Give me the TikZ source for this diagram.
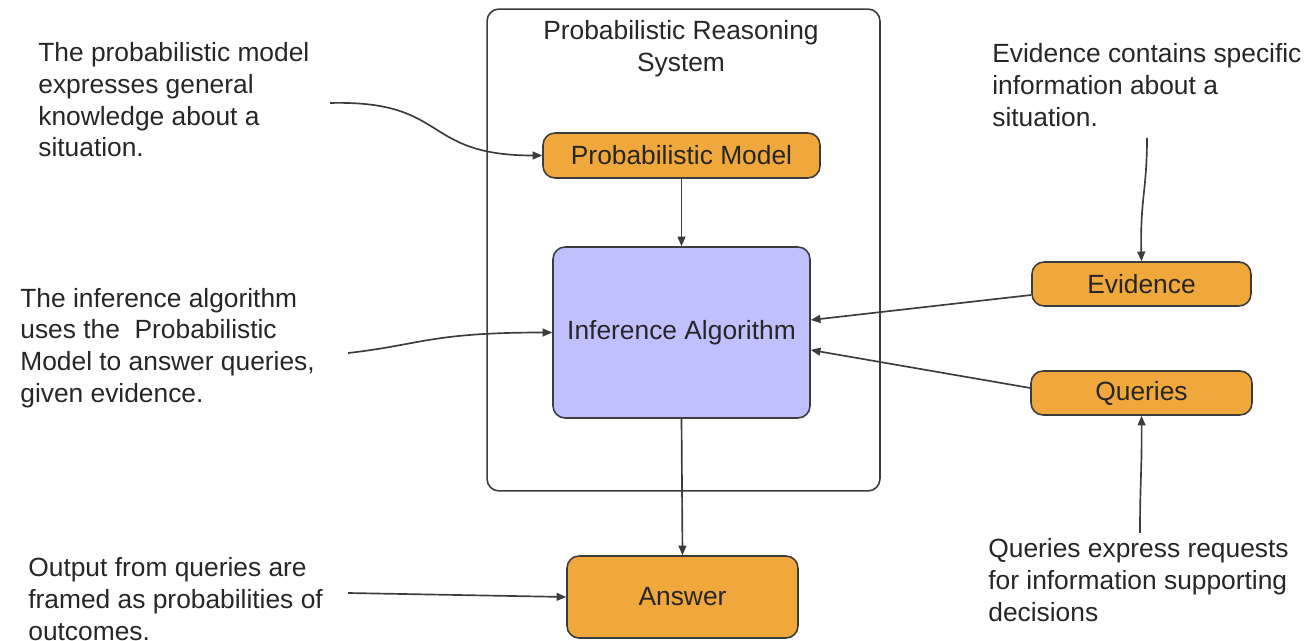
\documentclass[tikz,border=0pt]{standalone}
\usepackage{fontspec}
\setmainfont{Liberation Sans}
\usetikzlibrary{arrows.meta}
\definecolor{orangefill}{RGB}{240,168,60}
\definecolor{lavfill}{RGB}{192,192,255}
\definecolor{edge}{RGB}{60,60,60}
\begin{document}
\begin{tikzpicture}[x=0.02cm,y=-0.02cm,
  txt/.style={font=\fontsize{15}{18}\selectfont, align=left, inner sep=0pt, anchor=west, text=black!85},
  box/.style={draw=edge, line width=0.9pt, rounded corners=0.24cm, inner sep=0pt, font=\fontsize{15}{18}\selectfont, text=black!85},
  conn/.style={draw=edge, line width=0.95pt, -{Triangle[length=5.5pt,width=4.5pt]}}]
\useasboundingbox (0,0) rectangle (1312,641);
% system frame
\node[draw=edge, line width=0.9pt, rounded corners=0.24cm, minimum width=7.86cm, minimum height=9.64cm] (sys) at (683.5,250) {};
\node[font=\fontsize{15}{18}\selectfont, align=center, inner sep=0pt, text=black!85] (title) at (681,49) {Probabilistic Reasoning\\System};
% boxes
\node[box, fill=orangefill, minimum width=5.54cm, minimum height=0.9cm] (pm) at (681.5,155.5) {Probabilistic Model};
\node[box, fill=lavfill, minimum width=5.14cm, minimum height=3.42cm] (ia) at (681.5,332.5) {\raisebox{-0.06cm}{Inference Algorithm}};
\node[box, fill=orangefill, minimum width=4.38cm, minimum height=0.88cm] (ev) at (1141.5,284) {Evidence};
\node[box, fill=orangefill, minimum width=4.42cm, minimum height=0.88cm] (qu) at (1141.5,393) {Queries};
\node[box, fill=orangefill, minimum width=4.62cm, minimum height=1.64cm] (ans) at (682.5,597) {Answer};
% annotations
\node[txt] (t1) at (38,100) {The probabilistic model\\expresses general\\knowledge about a\\situation.};
\node[txt] (t2) at (20,348) {The inference algorithm\\uses the\ \ Probabilistic\\Model to answer queries,\\given evidence.};
\node[txt] (t3) at (28,599) {Output from queries are\\framed as probabilities of\\outcomes.};
\node[txt] (t4) at (992,85) {Evidence contains specific\\information about a\\situation.};
\node[txt] (t5) at (988,580) {Queries express requests\\for information supporting\\decisions};
% free ends
\coordinate (c1) at (330,103);
\coordinate (c2) at (348,353);
\coordinate (c3) at (348,593);
\coordinate (c4) at (1147,138);
\coordinate (c5) at (1140,533);
% connectors
\draw[conn] (pm.south) -- (ia.north);
\draw[conn] (ia.south) -- (ans.north);
\draw[conn] ([yshift=-0.22cm]ev.west) -- ([yshift=0.25cm]ia.east);
\draw[conn] ([yshift=0.1cm]qu.west) -- ([yshift=-0.35cm]ia.east);
\draw[conn] (c1) .. controls (450,100) and (420,155.5) .. (pm.west);
\draw[conn] (c2) .. controls (420,345) and (430,332.5) .. (ia.west);
\draw[conn] (c3) -- (ans.west);
\draw[conn] (c4) .. controls (1147,190) and (1140,200) .. (ev.north);
\draw[conn] (c5) .. controls (1140,480) and (1142,470) .. (qu.south);
\end{tikzpicture}
\end{document}
